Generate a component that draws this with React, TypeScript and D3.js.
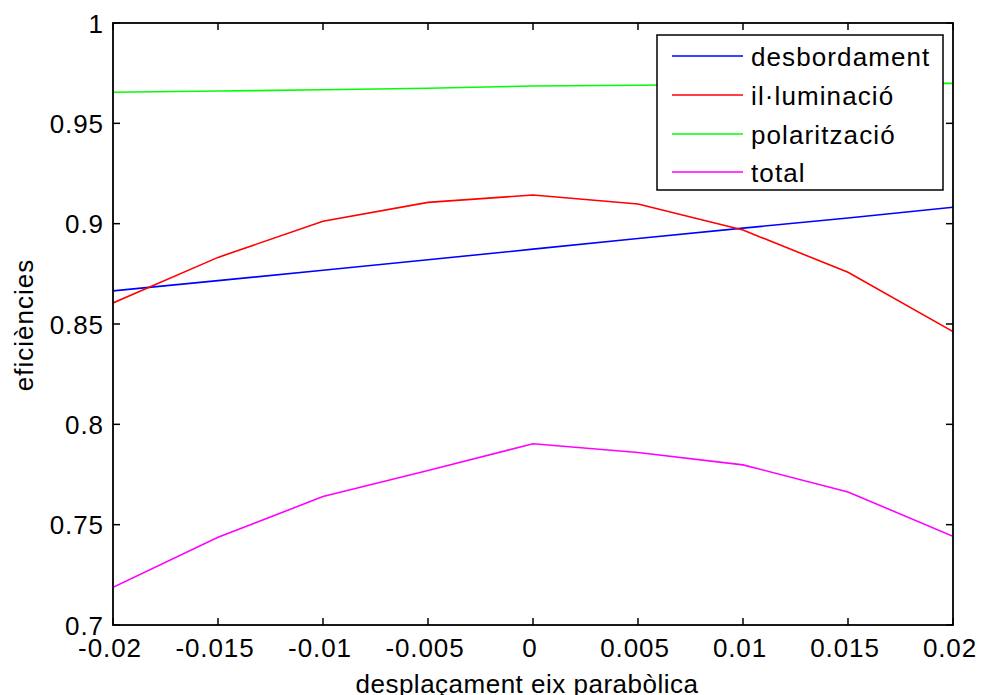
import React from "react";
import * as d3 from "d3";

const xValues = [-0.02, -0.015, -0.01, -0.005, 0, 0.005, 0.01, 0.015, 0.02];
const desbordament = [0.8665, 0.8716, 0.8768, 0.882, 0.8873, 0.8926, 0.8978, 0.9028, 0.9082];
const illuminacio = [0.8605, 0.8832, 0.9012, 0.9106, 0.9143, 0.9098, 0.8968, 0.8758, 0.8462];
const polaritzacio = [0.9655, 0.9661, 0.9667, 0.9675, 0.9686, 0.969, 0.9694, 0.9697, 0.9699];
const total = [0.7188, 0.7437, 0.764, 0.777, 0.7903, 0.786, 0.7798, 0.7663, 0.7442];

const seriesNames = ["desbordament", "il·luminació", "polarització", "total"];
const seriesColors = ["#0000ff", "#ff0000", "#00ff00", "#ff00ff"];
const seriesData = [desbordament, illuminacio, polaritzacio, total];

const xTicks = [-0.02, -0.015, -0.01, -0.005, 0, 0.005, 0.01, 0.015, 0.02];
const xTickLabels = ["-0.02", "-0.015", "-0.01", "-0.005", "0", "0.005", "0.01", "0.015", "0.02"];
const yTicks = [0.7, 0.75, 0.8, 0.85, 0.9, 0.95, 1];
const yTickLabels = ["0.7", "0.75", "0.8", "0.85", "0.9", "0.95", "1"];

const xLabel = "desplaçament eix parabòlica";
const yLabel = "eficiències";

export default function App() {
  const W = 984, H = 695;
  const left = 113, right = 953, top = 23, bottom = 625;
  const x = d3.scaleLinear().domain([-0.02, 0.02]).range([left, right]);
  const y = d3.scaleLinear().domain([0.7, 1]).range([bottom, top]);
  const line = d3.line<number>().x((_, i) => x(xValues[i])).y((d) => y(d));
  const font = "'Liberation Sans', Arial, sans-serif";
  const fs = 26;
  const ls = 0.9;
  const tl = 7;

  const lg = { x: 657, y: 35, w: 286, h: 155 };
  const rowY = [56, 95, 134, 172];

  return (
    <svg width={W} height={H} style={{ position: "absolute", left: 0, top: 0, background: "#fff" }}>
      <rect x={0} y={0} width={W} height={H} fill="#fff" />
      <defs>
        <clipPath id="clip">
          <rect x={left} y={top} width={right - left} height={bottom - top} />
        </clipPath>
      </defs>
      <g clipPath="url(#clip)">
        {seriesData.map((s, k) => (
          <path key={k} d={line(s) || ""} fill="none" stroke={seriesColors[k]} strokeWidth={1.6} />
        ))}
      </g>
      <rect x={left} y={top} width={right - left} height={bottom - top} fill="none" stroke="#000" strokeWidth={1.8} />
      {xTicks.map((t, i) => (
        <g key={"x" + i}>
          <line x1={x(t)} x2={x(t)} y1={bottom} y2={bottom - tl} stroke="#000" strokeWidth={1.5} />
          <line x1={x(t)} x2={x(t)} y1={top} y2={top + tl} stroke="#000" strokeWidth={1.5} />
          <text x={x(t) - 3} y={bottom + 32} textAnchor="middle" fontFamily={font} fontSize={fs} letterSpacing={ls} fill="#000">
            {xTickLabels[i]}
          </text>
        </g>
      ))}
      {yTicks.map((t, i) => (
        <g key={"y" + i}>
          <line x1={left} x2={left + tl} y1={y(t)} y2={y(t)} stroke="#000" strokeWidth={1.5} />
          <line x1={right} x2={right - tl} y1={y(t)} y2={y(t)} stroke="#000" strokeWidth={1.5} />
          <text x={left - 10 + ls} y={y(t) + 9.5} textAnchor="end" fontFamily={font} fontSize={fs} letterSpacing={ls} fill="#000">
            {yTickLabels[i]}
          </text>
        </g>
      ))}
      <text x={527} y={693} textAnchor="middle" fontFamily={font} fontSize={fs} letterSpacing={0.5} fill="#000">
        {xLabel}
      </text>
      <text
        transform={`translate(33, ${(top + bottom) / 2 + 1}) rotate(-90)`}
        textAnchor="middle"
        fontFamily={font}
        fontSize={fs}
        letterSpacing={1}
        fill="#000"
      >
        {yLabel}
      </text>
      <rect x={lg.x} y={lg.y} width={lg.w} height={lg.h} fill="#fff" stroke="#000" strokeWidth={1.5} />
      {seriesNames.map((n, k) => (
        <g key={"l" + k}>
          <line x1={672} x2={743} y1={rowY[k]} y2={rowY[k]} stroke={seriesColors[k]} strokeWidth={1.6} />
          <text x={751} y={rowY[k] + 10} fontFamily={font} fontSize={fs} letterSpacing={ls + 0.2} fill="#000">
            {n}
          </text>
        </g>
      ))}
    </svg>
  );
}
